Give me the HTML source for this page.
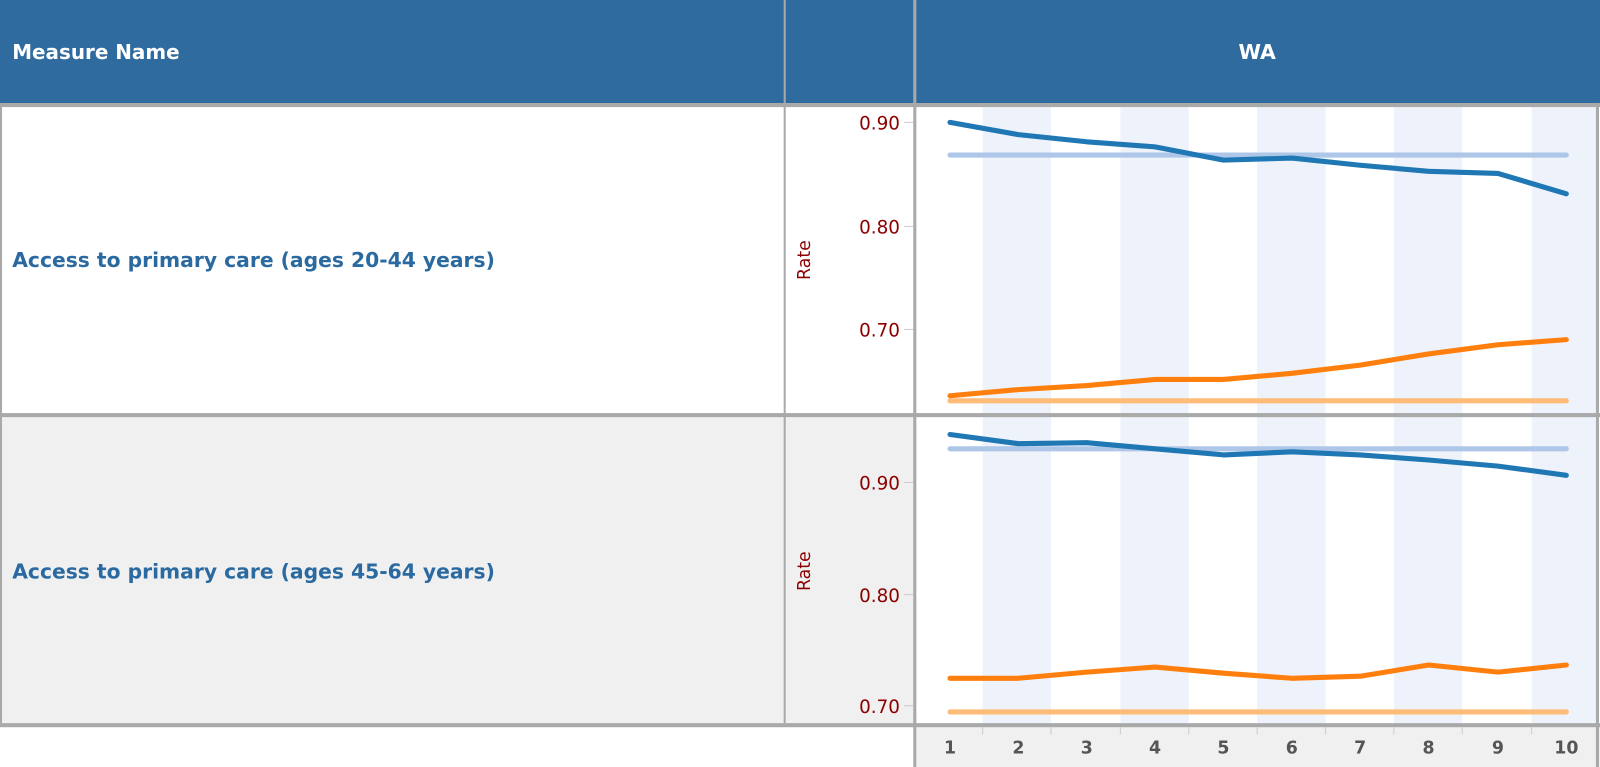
<!DOCTYPE html>
<html><head><meta charset="utf-8"><style>
html,body{margin:0;padding:0;background:#fff;width:1600px;height:767px;overflow:hidden}
svg{display:block}
text{font-family:"DejaVu Sans","Liberation Sans",sans-serif}
</style></head><body>
<svg width="1600" height="767" viewBox="0 0 1568 752" preserveAspectRatio="none" xmlns="http://www.w3.org/2000/svg">
<rect x="0" y="0" width="1568" height="101" fill="#306b9f"/>
<text x="12" y="58" font-size="20" font-weight="bold" fill="#fff" textLength="164" lengthAdjust="spacingAndGlyphs">Measure Name</text>
<text x="1232" y="58" font-size="20" font-weight="bold" fill="#fff" text-anchor="middle">WA</text>
<rect x="0" y="104" width="1568" height="302" fill="#fff"/>
<rect x="0" y="409" width="898" height="301" fill="#f0f0f0"/>
<rect x="898" y="409" width="670" height="301" fill="#fff"/>
<rect x="898" y="713" width="670" height="39" fill="#f0f0f0"/>
<g fill="#eef2fa">
<rect x="963" y="104" width="67" height="302"/><rect x="1098" y="104" width="67" height="302"/><rect x="1232" y="104" width="67" height="302"/><rect x="1366" y="104" width="67" height="302"/><rect x="1501" y="104" width="65" height="302"/>
<rect x="963" y="409" width="67" height="301"/><rect x="1098" y="409" width="67" height="301"/><rect x="1232" y="409" width="67" height="301"/><rect x="1366" y="409" width="67" height="301"/><rect x="1501" y="409" width="65" height="301"/>
</g>
<g fill="#a9a9a9">
<rect x="0" y="101" width="1568" height="4"/>
<rect x="0" y="405" width="1568" height="4"/>
<rect x="0" y="709" width="1568" height="4"/>
<rect x="895" y="0" width="3" height="752"/>
<rect x="1564" y="101" width="3" height="651"/>
<rect x="768" y="0" width="2" height="709"/>
<rect x="0" y="101" width="2" height="608"/>
</g>
<text x="12" y="262" font-size="20" font-weight="bold" fill="#2a6aa0" textLength="473" lengthAdjust="spacingAndGlyphs">Access to primary care (ages 20-44 years)</text>
<text x="12" y="567" font-size="20" font-weight="bold" fill="#2a6aa0" textLength="473" lengthAdjust="spacingAndGlyphs">Access to primary care (ages 45-64 years)</text>
<g font-size="17" fill="#8b0000">
<text transform="translate(794,255) rotate(-90)" text-anchor="middle">Rate</text>
<text transform="translate(794,560) rotate(-90)" text-anchor="middle">Rate</text>
</g>
<g font-size="18" fill="#8b0000" text-anchor="end">
<text x="882" y="127">0.90</text><text x="882" y="229">0.80</text><text x="882" y="330">0.70</text>
<text x="882" y="480">0.90</text><text x="882" y="590">0.80</text><text x="882" y="699">0.70</text>
</g>
<g stroke="#ccc" stroke-width="1">
<line x1="886" y1="120" x2="895" y2="120"/><line x1="886" y1="222" x2="895" y2="222"/><line x1="886" y1="323" x2="895" y2="323"/>
<line x1="886" y1="473" x2="895" y2="473"/><line x1="886" y1="583" x2="895" y2="583"/><line x1="886" y1="692" x2="895" y2="692"/>
</g>
<g stroke="#ccc"><line x1="963" y1="713" x2="963" y2="720"/><line x1="1030" y1="713" x2="1030" y2="720"/><line x1="1098" y1="713" x2="1098" y2="720"/><line x1="1165" y1="713" x2="1165" y2="720"/><line x1="1232" y1="713" x2="1232" y2="720"/><line x1="1299" y1="713" x2="1299" y2="720"/><line x1="1366" y1="713" x2="1366" y2="720"/><line x1="1433" y1="713" x2="1433" y2="720"/><line x1="1501" y1="713" x2="1501" y2="720"/></g>
<g font-size="17" font-weight="bold" fill="#555" text-anchor="middle">
<text x="931" y="739">1</text><text x="998" y="739">2</text><text x="1065" y="739">3</text><text x="1132" y="739">4</text><text x="1199" y="739">5</text><text x="1266" y="739">6</text><text x="1333" y="739">7</text><text x="1400" y="739">8</text><text x="1468" y="739">9</text><text x="1535" y="739">10</text>
</g>
<g fill="none" stroke-width="5" stroke-linecap="round" stroke-linejoin="round">
<line x1="931" y1="152" x2="1535" y2="152" stroke="#aec7e8"/>
<line x1="931" y1="393" x2="1535" y2="393" stroke="#ffbb78"/>
<polyline stroke="#1f77b4" points="931,120 998,132 1065,139 1132,144 1199,157 1266,155 1333,162 1400,168 1468,170 1535,190"/>
<polyline stroke="#ff7f0e" points="931,388 998,382 1065,378 1132,372 1199,372 1266,366 1333,358 1400,347 1468,338 1535,333"/>
<line x1="931" y1="440" x2="1535" y2="440" stroke="#aec7e8"/>
<line x1="931" y1="698" x2="1535" y2="698" stroke="#ffbb78"/>
<polyline stroke="#1f77b4" points="931,426 998,435 1065,434 1132,440 1199,446 1266,443 1333,446 1400,451 1468,457 1535,466"/>
<polyline stroke="#ff7f0e" points="931,665 998,665 1065,659 1132,654 1199,660 1266,665 1333,663 1400,652 1468,659 1535,652"/>
</g>
</svg>
</body></html>
